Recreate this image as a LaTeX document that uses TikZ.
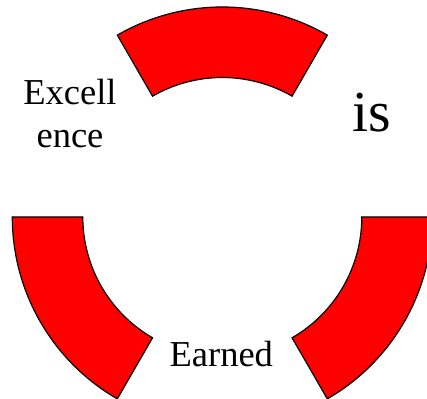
\documentclass[tikz,border=0pt]{standalone}
\usepackage{fontspec}
\setmainfont{Liberation Serif}
\usetikzlibrary{calc}
\begin{document}
\begin{tikzpicture}[x=1pt,y=1pt,
  sector/.style={fill=red,draw=black,line width=1.2pt,line join=miter},
  lbl/.style={inner sep=0pt,anchor=base,font=\fontsize{36.5}{42}\selectfont},
  biglbl/.style={inner sep=0pt,anchor=base,font=\fontsize{58}{66}\selectfont}]
\useasboundingbox (0,0) rectangle (427,398);
\coordinate (O) at (222.3,181);
\def\Ro{210}
\def\Ri{139.5}
% top sector
\path[sector] ($(O)+(60:\Ro pt)$) arc[start angle=60,end angle=120,radius=\Ro pt]
  -- ($(O)+(120:\Ri pt)$) arc[start angle=120,end angle=60,radius=\Ri pt] -- cycle;
% bottom-left sector
\path[sector] ($(O)+(180:\Ro pt)$) arc[start angle=180,end angle=240,radius=\Ro pt]
  -- ($(O)+(240:\Ri pt)$) arc[start angle=240,end angle=180,radius=\Ri pt] -- cycle;
% bottom-right sector
\path[sector] ($(O)+(300:\Ro pt)$) arc[start angle=300,end angle=360,radius=\Ro pt]
  -- ($(O)+(360:\Ri pt)$) arc[start angle=360,end angle=300,radius=\Ri pt] -- cycle;
\node[lbl] (ex1) at (70,293) {Excell};
\node[lbl] (ex2) at (70,250.5) {ence};
\node[biglbl] (is) at (372,266.3) {is};
\node[lbl] (earned) at (221.3,32) {Earned};
\end{tikzpicture}
\end{document}
